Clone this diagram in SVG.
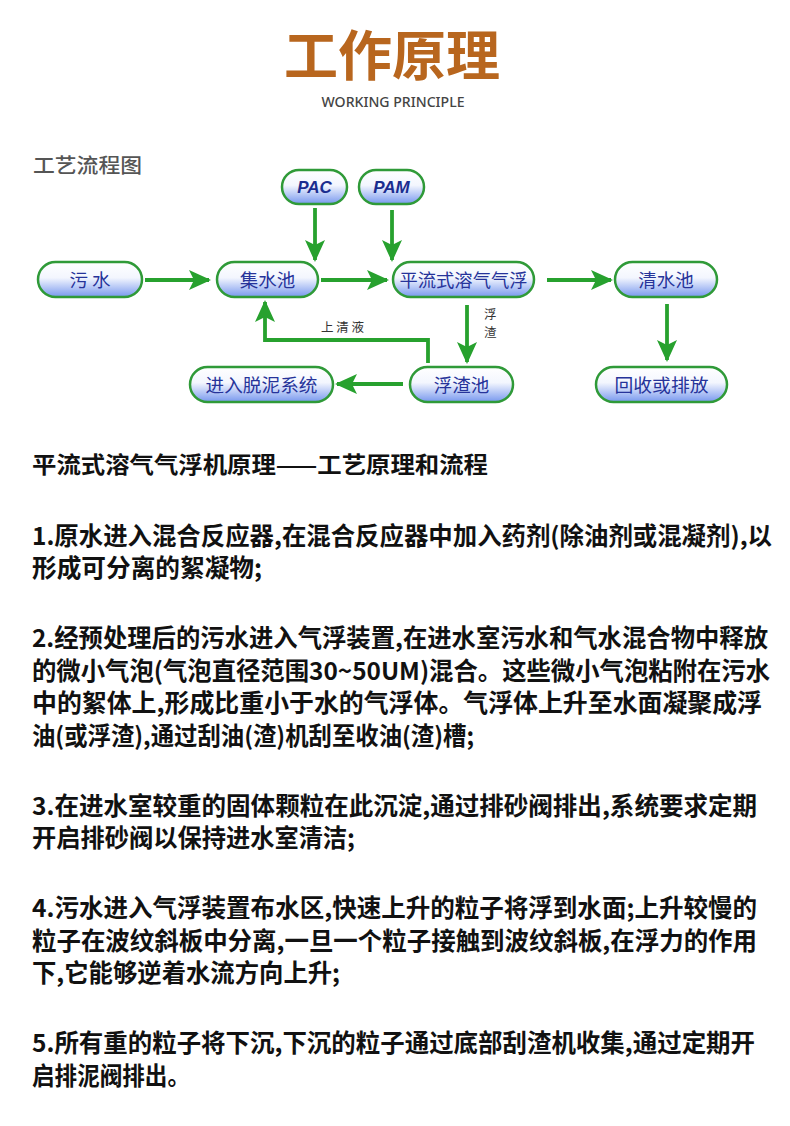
<svg xmlns="http://www.w3.org/2000/svg" width="790" height="1126" viewBox="0 0 790 1126">
<style>
.title{font-family:"Noto Sans CJK SC",sans-serif;font-weight:700;font-size:54px;fill:#b8661e}
.sub{font-family:"Noto Sans","Open Sans",sans-serif;font-weight:500;font-size:13.5px;fill:#444}
.cap{font-family:"Noto Sans CJK SC",sans-serif;font-weight:500;font-size:20px;fill:#555}
.pill{fill:url(#pg);stroke:#2f9a38;stroke-width:2.5}
.pt{font-family:"Noto Sans CJK SC",sans-serif;font-size:18.5px;fill:#26339a;text-anchor:middle}
.pe{font-family:"Liberation Sans",sans-serif;font-weight:700;font-style:italic;font-size:17px;fill:#1b2d8f;text-anchor:middle}
.ar{fill:none;stroke:#27a12e;stroke-width:3.8}
.lb{font-family:"Noto Sans CJK SC",sans-serif;font-size:12.5px;fill:#333}
.hd{font-family:"Noto Sans CJK SC",sans-serif;font-weight:700;font-size:22.5px;fill:#111}
.bd{font-family:"Noto Sans CJK SC",sans-serif;font-weight:700;font-size:24.5px;fill:#111}
</style>
<defs>
<linearGradient id="pg" x1="0" y1="0" x2="0" y2="1">
<stop offset="0" stop-color="#ffffff"/>
<stop offset="0.45" stop-color="#f3f6fe"/>
<stop offset="1" stop-color="#7898ee"/>
</linearGradient>
<marker id="ah" markerUnits="userSpaceOnUse" markerWidth="22" markerHeight="20" refX="20" refY="10" orient="auto" viewBox="0 0 22 20">
<path d="M0,0 L22,10 L0,20 L5,10 z" fill="#27a12e"/>
</marker>
</defs>
<rect width="790" height="1126" fill="#ffffff"/>
<text class="title" x="392" y="76" text-anchor="middle">工作原理</text>
<text class="sub" x="393" y="107" text-anchor="middle" textLength="143" lengthAdjust="spacingAndGlyphs">WORKING PRINCIPLE</text>
<text class="cap" x="33" y="173" textLength="109" lengthAdjust="spacingAndGlyphs">工艺流程图</text>

<g id="connectors">
<line class="ar" x1="145" y1="280" x2="209" y2="280" marker-end="url(#ah)"/>
<line class="ar" x1="321" y1="280" x2="387" y2="280" marker-end="url(#ah)"/>
<line class="ar" x1="547" y1="280" x2="611" y2="280" marker-end="url(#ah)"/>
<line class="ar" x1="315" y1="208" x2="315" y2="260" marker-end="url(#ah)"/>
<line class="ar" x1="392" y1="210" x2="392" y2="260" marker-end="url(#ah)"/>
<line class="ar" x1="467" y1="305" x2="467" y2="362" marker-end="url(#ah)"/>
<line class="ar" x1="667" y1="304" x2="667" y2="360" marker-end="url(#ah)"/>
<line class="ar" x1="403" y1="384" x2="337" y2="384" marker-end="url(#ah)"/>
<polyline class="ar" points="428,363 428,340 265,340 265,302" marker-end="url(#ah)"/>
<text class="lb" x="321" y="332">上 清 液</text>
<text class="lb" x="484" y="319">浮</text>
<text class="lb" x="484" y="337">渣</text>
</g>

<g id="n-pac"><rect class="pill" x="282" y="170" width="65" height="34" rx="17"/><text class="pe" x="314.5" y="193">PAC</text></g>
<g id="n-pam"><rect class="pill" x="359" y="170" width="65" height="34" rx="17"/><text class="pe" x="391.5" y="193">PAM</text></g>
<g id="n-wushui"><rect class="pill" x="38" y="262" width="104" height="35" rx="17.5"/><text class="pt" x="90" y="286.5">污 水</text></g>
<g id="n-jishui"><rect class="pill" x="217" y="262" width="101" height="35" rx="17.5"/><text class="pt" x="267.5" y="286.5">集水池</text></g>
<g id="n-qifu"><rect class="pill" x="393" y="262" width="141" height="35" rx="17.5"/><text class="pt" x="463.5" y="286.5" textLength="128" lengthAdjust="spacingAndGlyphs">平流式溶气气浮</text></g>
<g id="n-qingshui"><rect class="pill" x="615" y="262" width="102" height="35" rx="17.5"/><text class="pt" x="666" y="286.5">清水池</text></g>
<g id="n-tuoni"><rect class="pill" x="190" y="367" width="143" height="35" rx="17.5"/><text class="pt" x="261.5" y="391.5" textLength="112" lengthAdjust="spacingAndGlyphs">进入脱泥系统</text></g>
<g id="n-fuzha"><rect class="pill" x="410" y="367" width="103" height="35" rx="17.5"/><text class="pt" x="461.5" y="391.5">浮渣池</text></g>
<g id="n-huishou"><rect class="pill" x="596" y="367" width="131" height="35" rx="17.5"/><text class="pt" x="661.5" y="391.5" textLength="94" lengthAdjust="spacingAndGlyphs">回收或排放</text></g>

<text class="hd" x="32" y="473" textLength="456" lengthAdjust="spacingAndGlyphs">平流式溶气气浮机原理——工艺原理和流程</text>

<text class="bd" x="32" y="545" textLength="740" lengthAdjust="spacingAndGlyphs">1.原水进入混合反应器,在混合反应器中加入药剂(除油剂或混凝剂),以</text>
<text class="bd" x="32" y="577" textLength="230" lengthAdjust="spacingAndGlyphs">形成可分离的絮凝物;</text>

<text class="bd" x="32" y="647" textLength="736" lengthAdjust="spacingAndGlyphs">2.经预处理后的污水进入气浮装置,在进水室污水和气水混合物中释放</text>
<text class="bd" x="32" y="680" textLength="738" lengthAdjust="spacingAndGlyphs">的微小气泡(气泡直径范围30~50UM)混合。这些微小气泡粘附在污水</text>
<text class="bd" x="32" y="712" textLength="730" lengthAdjust="spacingAndGlyphs">中的絮体上,形成比重小于水的气浮体。气浮体上升至水面凝聚成浮</text>
<text class="bd" x="32" y="745" textLength="442" lengthAdjust="spacingAndGlyphs">油(或浮渣),通过刮油(渣)机刮至收油(渣)槽;</text>

<text class="bd" x="32" y="815" textLength="725" lengthAdjust="spacingAndGlyphs">3.在进水室较重的固体颗粒在此沉淀,通过排砂阀排出,系统要求定期</text>
<text class="bd" x="32" y="847" textLength="323" lengthAdjust="spacingAndGlyphs">开启排砂阀以保持进水室清洁;</text>

<text class="bd" x="32" y="917" textLength="725" lengthAdjust="spacingAndGlyphs">4.污水进入气浮装置布水区,快速上升的粒子将浮到水面;上升较慢的</text>
<text class="bd" x="32" y="950" textLength="725" lengthAdjust="spacingAndGlyphs">粒子在波纹斜板中分离,一旦一个粒子接触到波纹斜板,在浮力的作用</text>
<text class="bd" x="32" y="982" textLength="308" lengthAdjust="spacingAndGlyphs">下,它能够逆着水流方向上升;</text>

<text class="bd" x="32" y="1052" textLength="723" lengthAdjust="spacingAndGlyphs">5.所有重的粒子将下沉,下沉的粒子通过底部刮渣机收集,通过定期开</text>
<text class="bd" x="32" y="1085" textLength="158" lengthAdjust="spacingAndGlyphs">启排泥阀排出。</text>
</svg>
